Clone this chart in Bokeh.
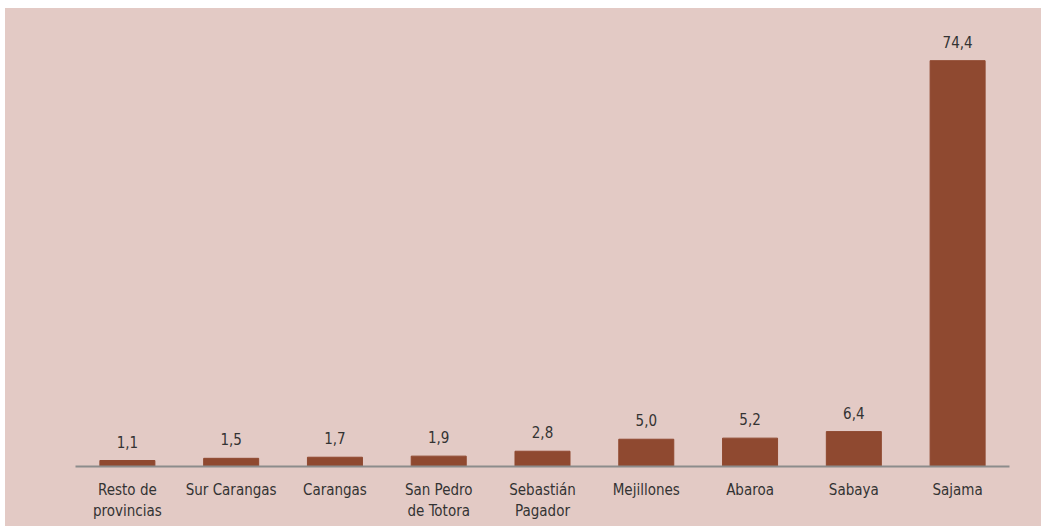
from bokeh.plotting import figure
from bokeh.models import ColumnDataSource, FactorRange, Range1d
from bokeh.core.properties import value
from bokeh.embed import file_html
from bokeh.resources import INLINE

categories = ["Resto de\nprovincias", "Sur Carangas", "Carangas", "San Pedro\nde Totora",
              "Sebastián\nPagador", "Mejillones", "Abaroa", "Sabaya", "Sajama"]
values = [1.1, 1.5, 1.7, 1.9, 2.8, 5.0, 5.2, 6.4, 74.4]
labels = [f"{v:.1f}".replace(".", ",") for v in values]

BG = "#E3CAC5"
BAR = "#8F4930"
FONT = "'DejaVu Sans Condensed', sans-serif"

src = ColumnDataSource(dict(cat=categories, val=values, lab=labels))

p = figure(width=1036, height=518, output_backend="svg", toolbar_location=None,
           x_range=FactorRange(*categories, range_padding=0),
           y_range=Range1d(0, 80.3))
p.margin = (8, 0, 0, 5)
p.styles = {"background-color": BG}
p.min_border_left = 70
p.min_border_right = 32
p.min_border_top = 20
p.min_border_bottom = 60

p.vbar(x="cat", top="val", width=0.53, source=src, color=BAR)
p.text(x="cat", y="val", text="lab", source=src, text_align="center",
       text_baseline="bottom", y_offset=-13, text_font=value(FONT),
       text_font_size="15px", text_color="#333333")

p.background_fill_color = None
p.border_fill_color = None
p.outline_line_color = None
p.grid.visible = False
p.yaxis.visible = False

ax = p.xaxis[0]
ax.axis_line_color = "#8C8C8C"
ax.axis_line_width = 2
ax.major_tick_line_color = None
ax.minor_tick_line_color = None
ax.major_label_text_font = FONT
ax.major_label_text_font_size = "15px"
ax.major_label_text_color = "#333333"
ax.major_label_standoff = 8

open("out.html", "w").write(file_html(p, INLINE))
